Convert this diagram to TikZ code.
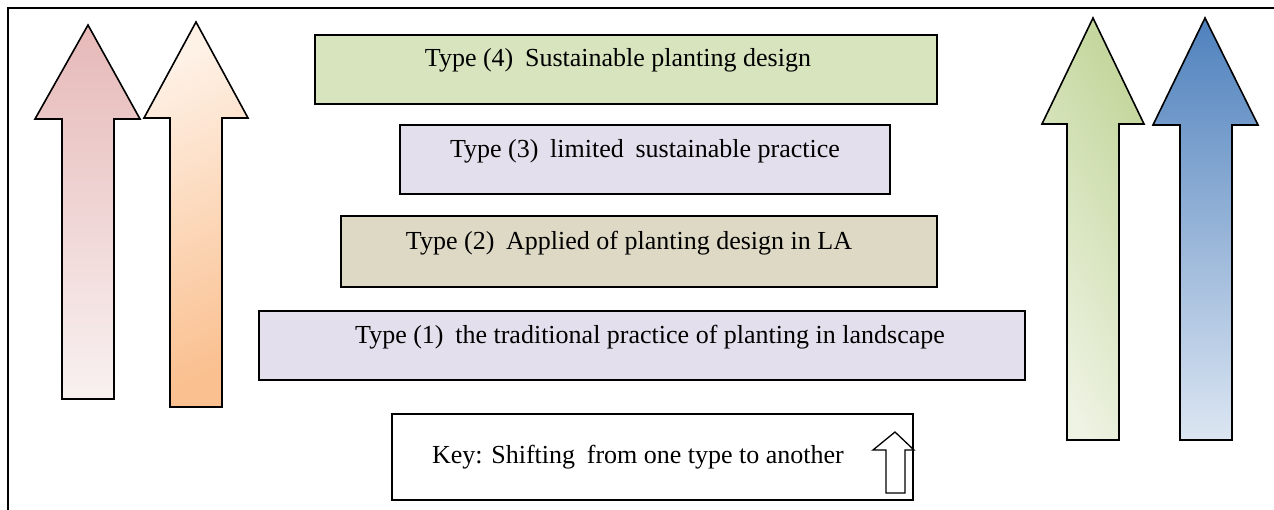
\documentclass[tikz,border=0pt]{standalone}
\usepackage{fontspec}
\setmainfont{Liberation Serif}
\definecolor{boxgreen}{HTML}{D7E4BD}
\definecolor{boxlav}{HTML}{E4DFEC}
\definecolor{boxtan}{HTML}{DDD9C4}
\definecolor{pinkT}{HTML}{E6B9B8}
\definecolor{pinkB}{HTML}{F9F1F1}
\definecolor{orL}{HTML}{FEF1E6}
\definecolor{orD}{HTML}{FAC090}
\definecolor{grL}{HTML}{EEF3E3}
\definecolor{grD}{HTML}{C3D69B}
\definecolor{blT}{HTML}{4F81BD}
\definecolor{blB}{HTML}{DCE6F2}
\newcommand{\gap}{\hspace{0.2em}}
\tikzset{
  typebox/.style={draw=black, line width=1.6pt, inner sep=0pt, anchor=north west},
  typetext/.style={font=\fontsize{26}{30}\selectfont, inner sep=0pt, text=black},
  bigarr/.style={draw=black, line width=1.6pt, line join=miter},
}
\begin{document}
\begin{tikzpicture}[x=1pt,y=1pt]
\useasboundingbox (0,0) rectangle (1274,-510);
% frame
\draw[line width=1.4pt] (8,-510) -- (8,-8) -- (1274,-8);

% big arrows
\path[bigarr, top color=pinkT, bottom color=pinkB]
  (62,-399) -- (62,-119) -- (35,-119) -- (88,-25) -- (140,-119) -- (114,-119) -- (114,-399) -- cycle;
\path[bigarr, top color=orL, bottom color=orD, shading angle=25]
  (170,-407) -- (170,-118) -- (144,-118) -- (196,-22) -- (248,-118) -- (222,-118) -- (222,-407) -- cycle;
\path[bigarr, top color=grD, bottom color=grL, shading angle=-60]
  (1067,-440) -- (1067,-124) -- (1042,-124) -- (1093,-18) -- (1144,-124) -- (1119,-124) -- (1119,-440) -- cycle;
\path[bigarr, top color=blT, bottom color=blB]
  (1180,-440) -- (1180,-125) -- (1153,-125) -- (1205,-18) -- (1258,-125) -- (1232,-125) -- (1232,-440) -- cycle;

% type boxes
\node[typebox, fill=boxgreen, minimum width=622pt, minimum height=69pt] (t4) at (314,-34) {};
\node[typetext] (t4l) at (618,-60) {Type (4)\gap{} Sustainable planting design};
\node[typebox, fill=boxlav, minimum width=490pt, minimum height=69pt] (t3) at (399,-124) {};
\node[typetext] (t3l) at (645,-151) {Type (3)\gap{} limited\gap{} sustainable practice};
\node[typebox, fill=boxtan, minimum width=596pt, minimum height=71pt] (t2) at (340,-215) {};
\node[typetext] (t2l) at (629,-243) {Type (2)\gap{} Applied of planting design in LA};
\node[typebox, fill=boxlav, minimum width=766pt, minimum height=69pt] (t1) at (258,-310) {};
\node[typetext] (t1l) at (650,-337) {Type (1)\gap{} the traditional practice of planting in landscape};

% key
\node[typebox, fill=white, minimum width=521pt, minimum height=86pt] (key) at (391,-413) {};
\node[typetext] (keyl) at (638,-457) {Key: Shifting\gap{} from one type to another};
\path[draw=black, fill=white, line width=1.3pt]
  (886,-493) -- (886,-450) -- (873,-450) -- (895,-432) -- (914,-450) -- (905,-450) -- (905,-493) -- cycle;
\end{tikzpicture}
\end{document}
